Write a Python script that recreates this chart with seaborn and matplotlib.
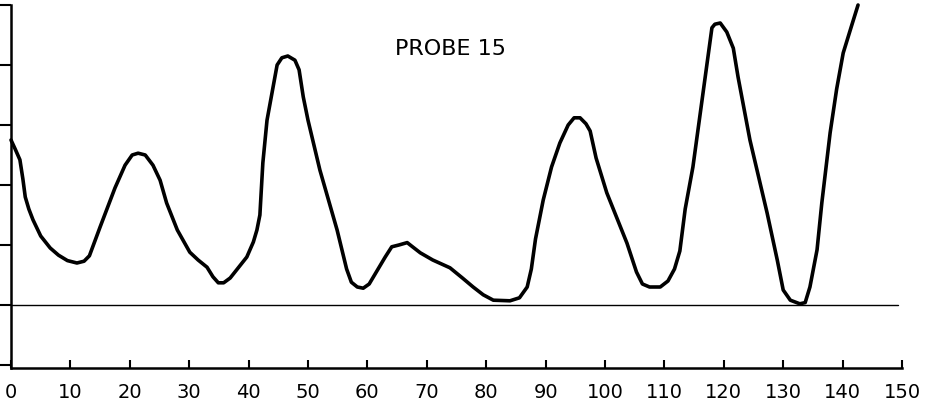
import matplotlib
matplotlib.use("Agg")
import matplotlib.pyplot as plt
import seaborn as sns
import pandas as pd

x_vals = [0, 0.7, 1.5, 2.0, 2.4, 3.0, 3.7, 5, 6.6, 8, 9.5, 11.1, 12.3, 13.2, 15, 17.5,
          19.2, 20.4, 21.4, 22.6, 23.9, 25.1, 26.2, 28, 30.1, 31.5, 33, 34, 34.9, 35.8,
          36.9, 38.5, 39.7, 40.8, 41.4, 41.9, 42.4, 43.1, 44.8, 45.6, 46.6, 47.8, 48.5,
          49.2, 50, 52, 54.9, 56.5, 57.3, 58.3, 59.3, 60.3, 61.2, 63, 64.1, 65.3, 66.7,
          67.6, 68.9, 71, 73.9, 76, 77.8, 79.5, 81.2, 84, 85.6, 86.9, 87.6, 88.3, 89.6,
          91, 92.4, 93.8, 94.8, 95.8, 96.8, 97.5, 98.5, 100.3, 103.7, 105.3, 106.3, 107.5,
          109.3, 110.6, 111.7, 112.6, 113.5, 114.8, 116.8, 118, 118.5, 119.4, 120.5, 121.6,
          122.4, 124.4, 127.3, 129, 130, 131.2, 132.8, 133.7, 134.5, 135.7, 136.5, 137.9,
          139, 140.1, 141.5, 142.6]
y_vals = [2.75, 2.6, 2.42, 2.1, 1.8, 1.6, 1.42, 1.15, 0.95, 0.83, 0.74, 0.70, 0.73, 0.82, 1.3, 1.95,
          2.33, 2.5, 2.53, 2.5, 2.33, 2.08, 1.7, 1.25, 0.88, 0.75, 0.63, 0.47, 0.37, 0.37,
          0.45, 0.65, 0.8, 1.05, 1.25, 1.5, 2.37, 3.08, 4.0, 4.12, 4.15, 4.08, 3.92,
          3.47, 3.08, 2.25, 1.25, 0.6, 0.38, 0.3, 0.28, 0.35, 0.5, 0.8, 0.97, 1.0, 1.04,
          0.97, 0.87, 0.75, 0.62, 0.45, 0.3, 0.17, 0.08, 0.07, 0.12, 0.3, 0.6, 1.1, 1.75,
          2.3, 2.7, 3.0, 3.12, 3.12, 3.02, 2.9, 2.45, 1.87, 1.03, 0.55, 0.35, 0.3,
          0.3, 0.4, 0.6, 0.9, 1.6, 2.3, 3.75, 4.62, 4.68, 4.7, 4.55, 4.28,
          3.8, 2.75, 1.53, 0.75, 0.25, 0.08, 0.02, 0.04, 0.3, 0.92, 1.7, 2.87,
          3.6, 4.2, 4.65, 5.0]
x_ticks = list(range(0, 151, 10))
y_ticks = [-1, 0, 1, 2, 3, 4, 5]
title_text = "PROBE 15"

sns.set_style("white")
plt.rcParams['font.family'] = ['DejaVu Sans']

df = pd.DataFrame({"x": x_vals, "y": y_vals})

fig = plt.figure(figsize=(9.27, 4.17), dpi=100)
ax = fig.add_axes([11/927, 49/417, 891/927, 363/417])

ax.axhline(0, color="black", lw=1.0, xmin=0, xmax=0.995)
sns.lineplot(data=df, x="x", y="y", ax=ax, color="black", lw=2.6, sort=False,
             estimator=None, clip_on=False, solid_capstyle="round", solid_joinstyle="round")

ax.set_xlim(0, 150)
ax.set_ylim(-1.05, 5.0)
ax.set_xticks(x_ticks)
ax.set_xticklabels([str(t) for t in x_ticks], fontsize=14, color="black")
ax.set_yticks(y_ticks)
ax.set_yticklabels([])
ax.tick_params(axis="x", direction="in", length=6, width=1.5, colors="black", pad=11)
ax.tick_params(axis="y", direction="out", length=8, width=1.5, colors="black", left=True)
ax.tick_params(axis="x", bottom=True)
for s in ["top", "right"]:
    ax.spines[s].set_visible(False)
for s in ["left", "bottom"]:
    ax.spines[s].set_color("black")
    ax.spines[s].set_linewidth(1.8)
ax.set_xlabel("")
ax.set_ylabel("")
ax.text(0.493, 0.88, title_text, transform=ax.transAxes, fontsize=16, ha="center",
        va="center", color="black")

fig.savefig("out.png", dpi=100)
